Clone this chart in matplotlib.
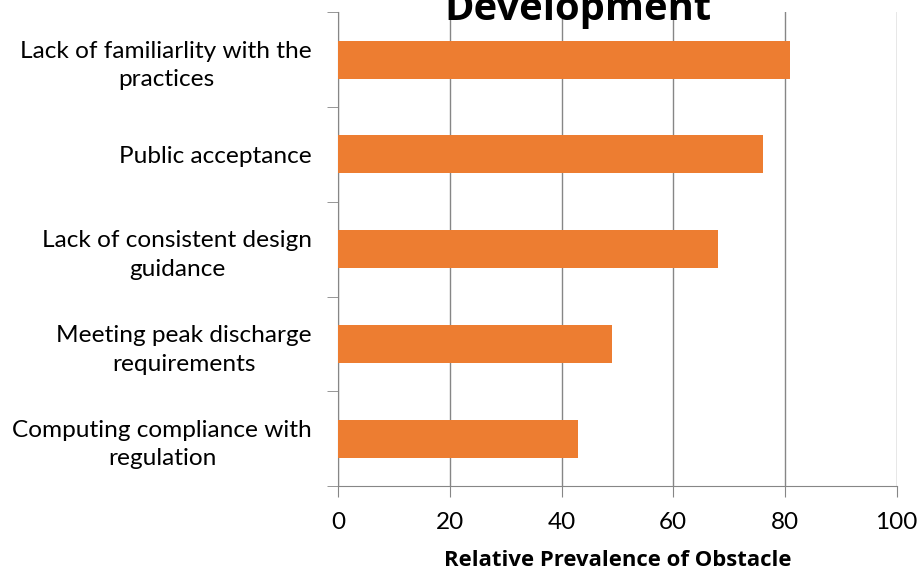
import matplotlib
matplotlib.use("Agg")
import matplotlib.pyplot as plt
import numpy as np

categories = [
    "Lack of familiarlity with the\npractices",
    "Public acceptance",
    "Lack of consistent design\nguidance",
    "Meeting peak discharge\nrequirements",
    "Computing compliance with\nregulation",
]
values = [81, 76, 68, 49, 43]
x_ticks = [0, 20, 40, 60, 80, 100]

grey = "#868686"

fig = plt.figure(figsize=(9.2, 5.73), dpi=100)
ax = fig.add_axes([338.5 / 920, 1 - 486 / 573, (896.5 - 338.5) / 920, (486 - 12.3) / 573])

pos = np.arange(len(categories))
ax.barh(pos, values, height=0.4, color="#ED7D31", zorder=3)

ax.set_xlim(0, 100)
ax.set_ylim(len(categories) - 0.5, -0.5)

ax.set_xticks(x_ticks)
ax.set_xticklabels([str(t) for t in x_ticks], fontsize=17.5, family="Lato")
ax.set_yticks(pos)
ax.set_yticklabels(categories, fontsize=17.6, family="Lato", ha="center",
                   multialignment="center", linespacing=1.45)
ax.set_yticks(np.arange(-0.5, len(categories)), minor=True)

ax.tick_params(axis="y", which="major", length=0, pad=0)
ax.tick_params(axis="y", which="minor", length=8, color=grey, direction="out")
ax.tick_params(axis="x", length=8, color=grey, pad=11, direction="out")

# centre the category labels in a block ending at x=312 px
fig.canvas.draw()
r = fig.canvas.get_renderer()
for lab in ax.get_yticklabels():
    w = lab.get_window_extent(r).width
    lab.set_transform(matplotlib.transforms.blended_transform_factory(
        fig.transFigure, ax.transData))
    lab.set_x((312 - w / 2) / 920)

ax.grid(axis="x", color=grey, linewidth=1, zorder=0)
for s in ["top", "right"]:
    ax.spines[s].set_visible(False)
for s in ["left", "bottom"]:
    ax.spines[s].set_color(grey)

ax.set_xlabel("Relative Prevalence of Obstacle", fontsize=15.9, fontweight="bold",
              family="Open Sans", labelpad=12)

fig.text(578 / 920, 1 - 20 / 573, "Development", ha="center", va="baseline",
         fontsize=28.7, fontweight="bold", family="Open Sans")

fig.savefig("out.png", dpi=100)
